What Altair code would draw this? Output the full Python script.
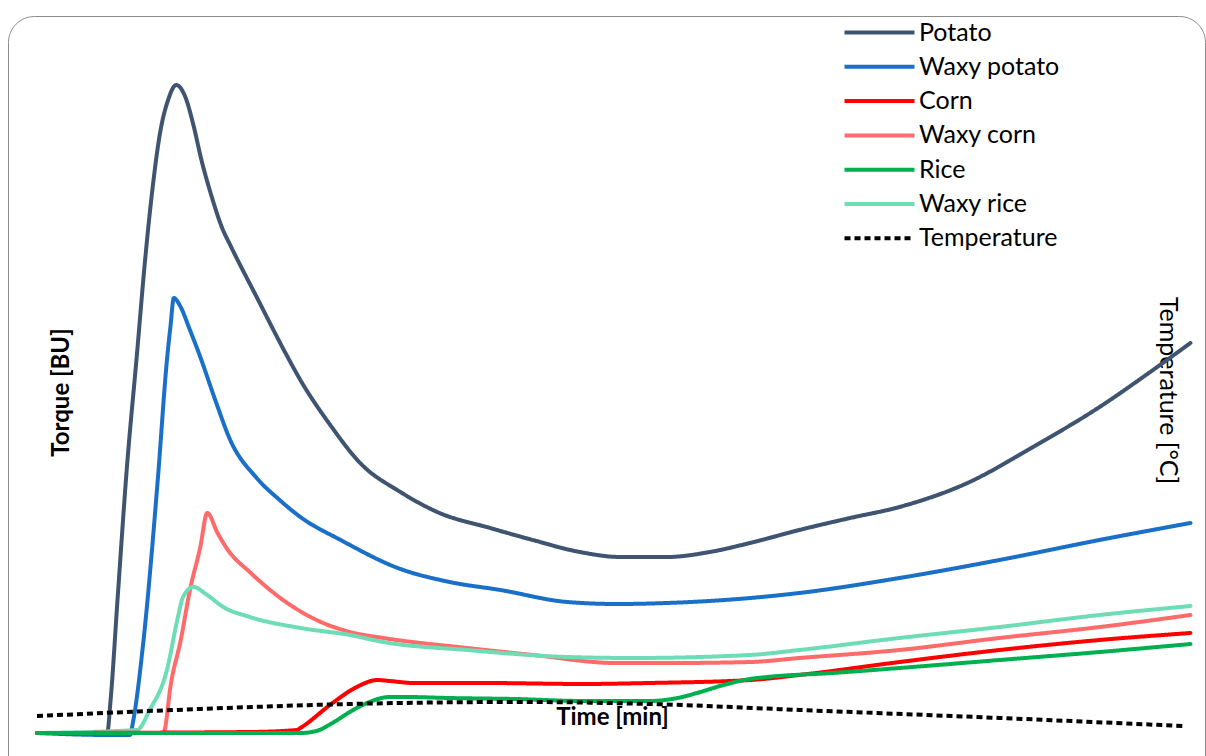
import altair as alt
import pandas as pd

series_order = ["Potato", "Waxy potato", "Corn", "Waxy corn", "Rice", "Waxy rice", "Temperature"]
series_colors = ["#3F5470", "#1A70C8", "#FF0000", "#FF6B6B", "#00B050", "#6EDDB5", "#000000"]
series_dash = [[1, 0], [1, 0], [1, 0], [1, 0], [1, 0], [1, 0], [6, 4]]
series_width = [4, 4, 4, 4, 4, 4, 2]

# time (arbitrary units, 0-100) and torque (arbitrary BU units)
potato_t = [0, 5.5, 6.1, 6.4, 7.0, 7.8, 8.7, 9.4, 10.0, 10.7, 11.4, 12.1, 12.9, 13.6, 14.3, 15.2, 16.1,
            16.8, 19.1, 21.7, 22.9, 25.5, 28.1, 31.6, 35.0, 39.4, 43.1, 47.2, 50.7, 54.8, 58.5, 62.0,
            66.3, 70.7, 75.0, 80.9, 86.6, 92.4, 96.8, 100.3]
potato_v = [9.7, 9.7, 9.7, 55.6, 194.4, 375, 537.5, 666.7, 759.7, 843.1, 888.9, 909.7, 893.1, 854.2,
            805.6, 754.2, 711.1, 687.5, 615.3, 534.7, 500, 437.5, 384.7, 344.4, 315.3, 294.4, 277.8,
            261.1, 254.2, 254.2, 261.1, 273.6, 291.7, 308.3, 323.6, 356.9, 406.9, 462.5, 511.1, 551.4]

waxy_potato_t = [0, 6.4, 8.1, 8.3, 9.2, 10.5, 11.3, 11.6, 11.9, 12.4, 13.3, 14.2, 15.5, 16.8, 19.1,
                 21.1, 22.9, 26.4, 31.6, 35.9, 40.3, 46.1, 50.4, 54.8, 62.0, 66.3, 75.0, 83.7, 92.4, 100.3]
waxy_potato_v = [9.7, 6.9, 6.9, 20.8, 129.2, 361.1, 527.8, 573.6, 613.9, 604.2, 569.4, 531.9, 472.2,
                 416.7, 363.9, 333.3, 309.7, 277.8, 237.5, 219.4, 208.3, 191.7, 188.9, 190.3, 197.2,
                 204.2, 225, 250, 277.8, 301.4]

corn_t = [0, 18.5, 22.6, 22.9, 25.7, 27.8, 29.6, 30.7, 32.7, 38.8, 47.5, 53.3, 62.0, 66.3, 75.0, 83.7, 92.4, 100.3]
corn_v = [9.7, 11.1, 13.9, 16.7, 51.4, 73.6, 83.3, 81.9, 79.2, 79.2, 77.8, 79.2, 83.3, 90.3, 108.3, 125, 138.9, 148.6]

waxy_corn_t = [0, 11.0, 11.1, 11.6, 12.5, 13.3, 14.2, 14.8, 15.7, 16.6, 18.5, 21.4, 24.3, 27.2, 30.1,
               37.4, 43.1, 50.4, 54.8, 62.0, 66.3, 75.0, 83.7, 92.4, 100.3]
waxy_corn_v = [9.7, 9.7, 13.9, 73.6, 138.9, 208.3, 268.1, 315.3, 287.5, 263.9, 233.3, 194.4, 166.7, 150,
               141.7, 127.8, 118.1, 106.9, 106.9, 108.3, 113.9, 125, 141.7, 156.9, 173.6]

rice_t = [0, 22.9, 24.3, 25.7, 27.2, 28.7, 30.7, 32.2, 35.9, 41.7, 47.5, 53.3, 55.7, 57.7, 59.7, 62.0,
          63.5, 69.2, 75.0, 83.7, 92.4, 100.3]
rice_v = [9.7, 9.7, 12.5, 23.6, 38.9, 51.4, 59.7, 59.7, 58.3, 56.9, 54.2, 54.2, 58.3, 66.7, 76.4, 84.7,
          87.5, 93.1, 100, 111.1, 122.2, 133.3]

waxy_rice_t = [0, 8.7, 9.8, 11.3, 12.2, 12.7, 13.6, 14.8, 16.2, 18.5, 22.9, 27.2, 30.1, 37.4, 46.1,
               51.8, 62.0, 66.3, 75.0, 83.7, 92.4, 100.3]
waxy_rice_v = [9.7, 13.9, 41.7, 97.2, 166.7, 198.6, 212.5, 201.4, 184.7, 170.8, 155.6, 145.8, 136.1,
               125, 115.3, 113.9, 118.1, 125, 141.7, 156.9, 173.6, 186.1]

temperature_t = [0, 14.2, 27.2, 42.0, 53.3, 66.3, 83.7, 99.7]
temperature_v = [33.3, 43.1, 50, 52.8, 50, 41.7, 30.6, 19.4]

# drawing order (rice last so its baseline lies on top)
torque_series = [
    ("Potato", potato_t, potato_v),
    ("Waxy potato", waxy_potato_t, waxy_potato_v),
    ("Waxy corn", waxy_corn_t, waxy_corn_v),
    ("Waxy rice", waxy_rice_t, waxy_rice_v),
    ("Corn", corn_t, corn_v),
    ("Rice", rice_t, rice_v),
]

rows = []
for name, ts, vs in torque_series:
    for i, (t, v) in enumerate(zip(ts, vs)):
        rows.append({"series": name, "time": t, "value": v, "idx": i})
torque_df = pd.DataFrame(rows)

temp_df = pd.DataFrame({"series": "Temperature", "time": temperature_t, "value": temperature_v,
                        "idx": list(range(len(temperature_t)))})

FONT = "Lato"

x_scale = alt.Scale(domain=[0, 100], range=[29, 1179])
y_scale = alt.Scale(domain=[0, 1000], range=[724, 4])

legend_spec = alt.Legend(title=None, orient="none", legendX=834, legendY=4)
color_enc = alt.Color("series:N", scale=alt.Scale(domain=series_order, range=series_colors),
                      legend=legend_spec)
dash_enc = alt.StrokeDash("series:N", scale=alt.Scale(domain=series_order, range=series_dash),
                          legend=legend_spec)
width_enc = alt.StrokeWidth("series:N", scale=alt.Scale(domain=series_order, range=series_width),
                            legend=legend_spec)

x_enc = alt.X("time:Q", scale=x_scale,
              axis=alt.Axis(title="Time [min]", domain=False, ticks=False, labels=False, grid=False,
                            titleX=604, titleY=-89, titleFont=FONT, titleFontSize=24,
                            titleFontWeight="bold", titleBaseline="middle", titleColor="black"))

torque = alt.Chart(torque_df).mark_line(interpolate="monotone", strokeCap="round").encode(
    x=x_enc,
    y=alt.Y("value:Q", scale=y_scale,
            axis=alt.Axis(title="Torque [BU]", orient="left", domain=False, ticks=False, labels=False,
                          grid=False, titleX=53, titleY=376, titleAngle=-90, titleFont=FONT,
                          titleFontSize=24, titleFontWeight="bold", titleBaseline="middle",
                          titleColor="black")),
    color=color_enc,
    strokeDash=dash_enc,
    strokeWidth=width_enc,
    order="idx:Q",
)

temperature = alt.Chart(temp_df).mark_line(interpolate="monotone").encode(
    x=x_enc,
    y=alt.Y("value:Q", scale=y_scale,
            axis=alt.Axis(title="Temperature [°C]", orient="right", domain=False, ticks=False,
                          labels=False, grid=False, titleX=-38, titleY=374, titleAngle=90,
                          titleFont=FONT, titleFontSize=25, titleFontWeight="normal",
                          titleBaseline="middle", titleColor="black")),
    color=color_enc,
    strokeDash=dash_enc,
    strokeWidth=width_enc,
    order="idx:Q",
)

chart = alt.layer(torque, temperature).resolve_scale(y="independent").properties(
    width=1197, height=790,
    autosize=alt.AutoSizeParams(type="none"),
    padding={"left": 8, "top": 16, "right": 1, "bottom": 0},
    background="white",
).configure_view(
    stroke="#8C8C8C", strokeWidth=1, cornerRadius=26
).configure_legend(
    symbolType="M-1,0H6", symbolSize=400, symbolStrokeWidth=4,
    labelFont=FONT, labelFontSize=25, labelColor="black", labelOffset=52,
    rowPadding=8.3, padding=0,
)

chart.save("out.html", embed_options={"renderer": "svg", "actions": False})
